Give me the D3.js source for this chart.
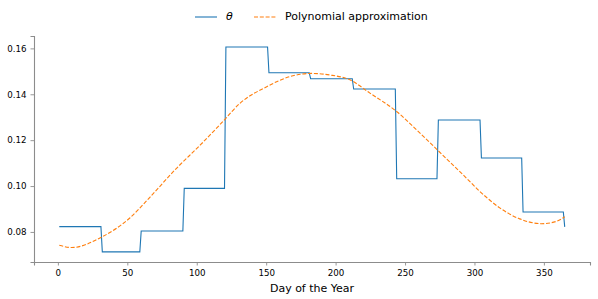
<!DOCTYPE html>
<html>
<head>
<meta charset="utf-8">
<script src="https://cdn.jsdelivr.net/npm/d3@7"></script>
<style>
  body { margin: 0; background: #fff; }
  svg { display: block; font-family: "DejaVu Sans", sans-serif; }
</style>
</head>
<body>
<div id="chart"></div>
<script>
// theta: monthly step values, listed as the corner points of the step line
const thetaDays = [1, 31, 32, 59, 60, 90, 91, 120, 121, 151, 152, 181, 182, 212,
  213, 243, 244, 273, 274, 304, 305, 334, 335, 364, 365];
const thetaValues = [0.0823, 0.0823, 0.0713, 0.0713, 0.0804, 0.0804, 0.0990, 0.0990,
  0.1606, 0.1606, 0.1494, 0.1494, 0.1468, 0.1468, 0.1423, 0.1423, 0.1032, 0.1032,
  0.1288, 0.1288, 0.1122, 0.1122, 0.0887, 0.0887, 0.0822];

// polynomial approximation
const polyDays = [1, 10, 31.6, 52, 66.4, 84.4, 102.4, 118, 131, 150.4, 167,
  182.7, 196, 210.3, 224.7, 243.9, 258.3, 272.7, 294.3, 303.8, 318.2, 332.6, 348.2, 359, 365];
const polyValues = [0.0742, 0.0732, 0.0778, 0.0862, 0.0952, 0.1071, 0.1178, 0.1276,
  0.1360, 0.1433, 0.1477, 0.1491, 0.1484, 0.1463, 0.1405, 0.1325, 0.1245,
  0.1161, 0.1034, 0.0977, 0.0905, 0.0857, 0.0836, 0.0846, 0.0866];

const xTicks = [0, 50, 100, 150, 200, 250, 300, 350];
const yTicks = [0.08, 0.10, 0.12, 0.14, 0.16];

const W = 598, H = 299;
const plotLeft = 34, plotRight = 590, plotTop = 36, plotBottom = 262;

const svg = d3.select("#chart").append("svg")
  .attr("width", W).attr("height", H);

const x = d3.scaleLinear().domain([-17.2, 383.2]).range([plotLeft, plotRight]);
const y = d3.scaleLinear().domain([0.0669, 0.1654]).range([plotBottom, plotTop]);

const axisColor = "#8c8c8c";

// x axis
const gx = svg.append("g").attr("transform", `translate(0,${plotBottom})`)
  .call(d3.axisBottom(x).tickValues(xTicks).tickSize(3.5).tickPadding(4).tickFormat(d3.format("d")));
// y axis
const gy = svg.append("g").attr("transform", `translate(${plotLeft},0)`)
  .call(d3.axisLeft(y).tickValues(yTicks).tickSize(3.5).tickPadding(4).tickFormat(d3.format(".2f")));

[gx, gy].forEach(g => {
  g.select(".domain").attr("stroke", axisColor).attr("stroke-width", 1.1);
  g.selectAll(".tick line").attr("stroke", axisColor).attr("stroke-width", 0.9);
  g.selectAll(".tick text").attr("fill", "#000").style("font-size", "8.7px")
    .style("font-family", "'DejaVu Sans', sans-serif");
});

svg.append("text")
  .attr("x", (plotLeft + plotRight) / 2).attr("y", 289)
  .attr("text-anchor", "middle").attr("dominant-baseline", "middle")
  .style("font-size", "11px")
  .text("Day of the Year");

const thetaLine = d3.line()
  .x((d, i) => x(thetaDays[i]))
  .y(d => y(d));

const polyLine = d3.line()
  .x((d, i) => x(polyDays[i]))
  .y(d => y(d))
  .curve(d3.curveMonotoneX);

svg.append("path")
  .attr("d", thetaLine(thetaValues))
  .attr("fill", "none").attr("stroke", "#1f77b4").attr("stroke-width", 1.1);

svg.append("path")
  .attr("d", polyLine(polyValues))
  .attr("fill", "none").attr("stroke", "#ff7f0e").attr("stroke-width", 1.1)
  .attr("stroke-dasharray", "4,1.8");

// legend
const lg = svg.append("g");
lg.append("line").attr("x1", 195).attr("x2", 217).attr("y1", 17).attr("y2", 17)
  .attr("stroke", "#1f77b4").attr("stroke-width", 1.1);
lg.append("text").attr("x", 226).attr("y", 17).attr("dominant-baseline", "middle")
  .style("font-size", "11px").style("font-style", "italic").text("θ");
lg.append("line").attr("x1", 254).attr("x2", 276).attr("y1", 17).attr("y2", 17)
  .attr("stroke", "#ff7f0e").attr("stroke-width", 1.1).attr("stroke-dasharray", "4,1.8");
lg.append("text").attr("x", 285).attr("y", 17).attr("dominant-baseline", "middle")
  .style("font-size", "11px").text("Polynomial approximation");
</script>
</body>
</html>
